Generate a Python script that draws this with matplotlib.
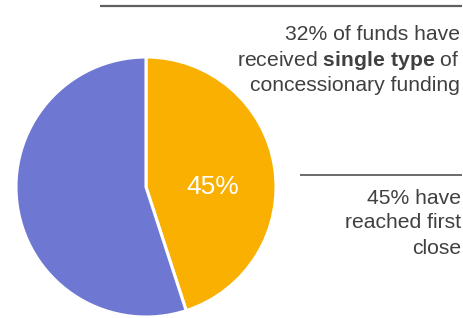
import matplotlib.pyplot as plt

# Share of funds that reached first close
labels = ['Not reached first close', 'Reached first close']
shares = [55, 45]
colors = ['#6E78D2', '#F9B000']

plt.rcParams['font.family'] = ['Liberation Sans', 'DejaVu Sans']
plt.rcParams['mathtext.fontset'] = 'custom'
plt.rcParams['mathtext.rm'] = 'Liberation Sans'
plt.rcParams['mathtext.bf'] = 'Liberation Sans:bold'

fig = plt.figure(figsize=(4.64, 3.18), dpi=100)
ax = fig.add_axes([0, 0, 1, 1])

# pie drawn in pixel space, orange slice starts at the top going clockwise
wedges, texts = ax.pie(
    shares[::-1], colors=colors[::-1], startangle=90, counterclock=False,
    center=(146, 131), radius=130, frame=True,
    wedgeprops=dict(edgecolor='white', linewidth=2.2))
ax.set_xlim(0, 464)
ax.set_ylim(0, 318)
ax.set_aspect('equal')
ax.axis('off')

# label of the orange slice sits level with the pie centre
ax.text(146 + 0.51 * 130, 131, '%d%%' % shares[1], ha='center', va='center',
        color='white', fontsize=19)

grey = '#404040'
fs = 15.2
ax.plot([100, 462], [312, 312], color='#606060', lw=1.6, solid_capstyle='butt')
ax.plot([300, 462], [143, 143], color='#606060', lw=1.3, solid_capstyle='butt')

ax.text(460, 284, '32% of funds have', ha='right', va='center', fontsize=fs, color=grey)
ax.text(460, 258, 'received $\\mathbf{single\\ type}$ of', ha='right', va='center', fontsize=fs, color=grey)
ax.text(460, 232, 'concessionary funding', ha='right', va='center', fontsize=fs, color=grey)

ax.text(461, 120, '45% have', ha='right', va='center', fontsize=fs, color=grey)
ax.text(461, 96, 'reached first', ha='right', va='center', fontsize=fs, color=grey)
ax.text(461, 70, 'close', ha='right', va='center', fontsize=fs, color=grey)

fig.savefig('out.png', dpi=100)
